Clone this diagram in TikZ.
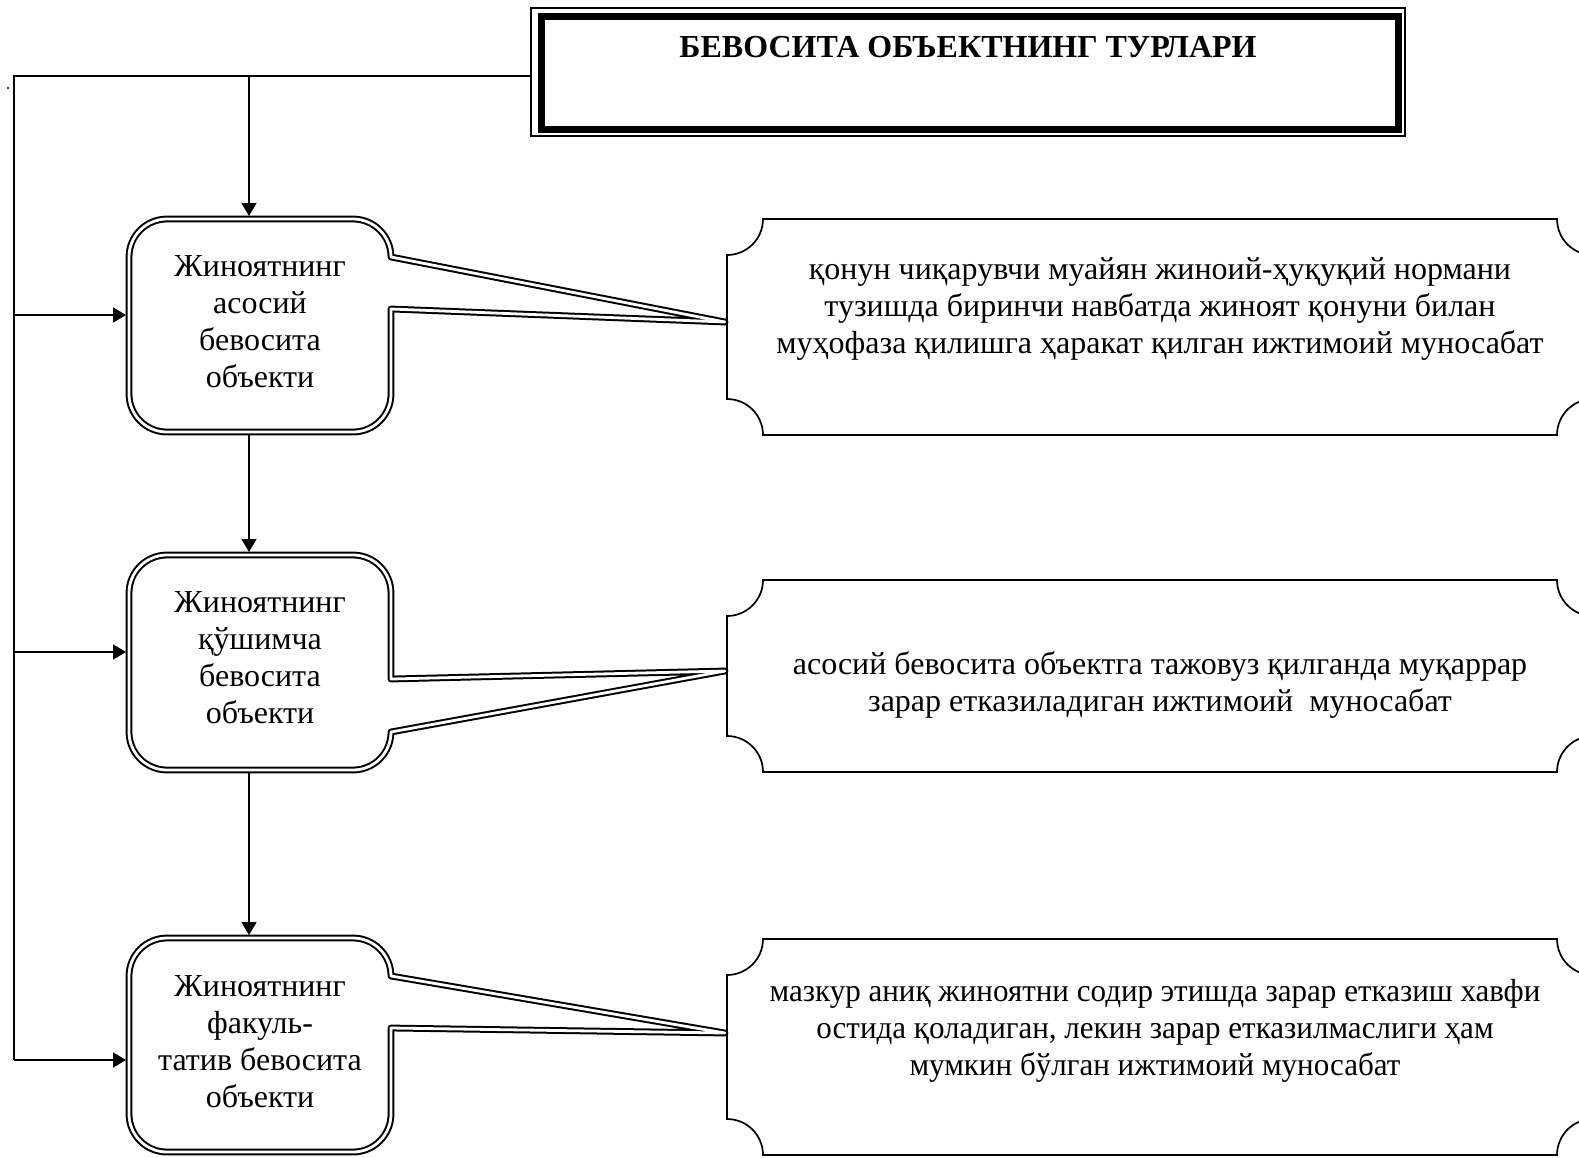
\documentclass[tikz,border=0pt]{standalone}
\usepackage{fontspec}
\setmainfont{Liberation Serif}
\usetikzlibrary{arrows.meta}
\begin{document}
\begin{tikzpicture}[x=0.5pt,y=-0.5pt,
  ln/.style={line width=0.9pt},
  arr/.style={line width=0.9pt,-{Triangle[length=6.5pt,width=7.5pt]}},
  dbl/.style={draw,line width=1pt,double=white,double distance=1.4pt,line join=round},
  plaque/.style={draw,line width=0.85pt},
  txt/.style={align=center,font=\fontsize{16pt}{18.5pt}\selectfont,inner sep=0pt}]
\useasboundingbox (0,0) rectangle (1579,1157);
% title
\draw[line width=0.8pt] (531,8) rectangle (1405,136);
\draw[line width=3.5pt] (541,16) rectangle (1398,129);
\node[txt,font=\fontsize{16pt}{18.5pt}\selectfont\bfseries] (title) at (968,47) {БЕВОСИТА ОБЪЕКТНИНГ ТУРЛАРИ};
% left callout boxes
\draw[dbl] (167,219) -- (353,219) arc(-90:0:38) -- (725,322) -- (391,309) -- (391,394)
  arc(0:90:38) -- (167,432) arc(90:180:38) -- (129,257) arc(180:270:38) -- cycle;
\draw[dbl] (167,555) -- (353,555) arc(-90:0:38) -- (391,679) -- (725,671) -- (391,732)
  arc(0:90:38) -- (167,770) arc(90:180:38) -- (129,593) arc(180:270:38) -- cycle;
\draw[dbl] (167,938) -- (353,938) arc(-90:0:38) -- (725,1033) -- (391,1028) -- (391,1114)
  arc(0:90:38) -- (167,1152) arc(90:180:38) -- (129,976) arc(180:270:38) -- cycle;
\node[txt] (b1) at (260,322) {Жиноятнинг\\асосий\\бевосита\\объекти};
\node[txt] (b2) at (260,658) {Жиноятнинг\\қўшимча\\бевосита\\объекти};
\node[txt] (b3) at (260,1042) {Жиноятнинг\\факуль-\\татив бевосита\\объекти};
% right plaques
\draw[plaque] (763,219) -- (1557,219) arc(180:90:36) -- (1593,399) arc(270:180:36)
  -- (763,435) arc(0:-90:36) -- (727,255) arc(90:0:36) -- cycle;
\draw[plaque] (763,580) -- (1557,580) arc(180:90:36) -- (1593,736) arc(270:180:36)
  -- (763,772) arc(0:-90:36) -- (727,616) arc(90:0:36) -- cycle;
\draw[plaque] (763,939) -- (1557,939) arc(180:90:36) -- (1593,1119) arc(270:180:36)
  -- (763,1155) arc(0:-90:36) -- (727,975) arc(90:0:36) -- cycle;
\node[txt] (r1) at (1160,309) {қонун чиқарувчи муайян жиноий-ҳуқуқий нормани\\тузишда биринчи навбатда жиноят қонуни билан\\муҳофаза қилишга ҳаракат қилган ижтимоий муносабат};
\node[txt] (r2) at (1160,685) {асосий бевосита объектга тажовуз қилганда муқаррар\\зарар етказиладиган ижтимоий\ \ муносабат};
\node[txt,font=\fontsize{16pt}{18.5pt}\selectfont\addfontfeatures{FakeStretch=0.97}] (r3) at (1155,1031) {мазкур аниқ жиноятни содир этишда зарар етказиш хавфи\\остида қоладиган, лекин зарар етказилмаслиги ҳам\\мумкин бўлган ижтимоий муносабат};
% connectors
\coordinate (tl) at (531,76);
\coordinate (corner) at (14,76);
\coordinate (busend) at (14,1060);
\coordinate (tap) at (249,76);
\coordinate (b1t) at (249,216);
\coordinate (b1b) at (249,435);
\coordinate (b2t) at (249,552);
\coordinate (b2b) at (249,773);
\coordinate (b3t) at (249,935);
\coordinate (b1l) at (126,315);
\coordinate (b2l) at (126,652);
\coordinate (b3l) at (126,1060);
\draw[ln] (tl) -- (corner) -- (busend);
\draw[arr] (busend) -- (b3l);
\draw[arr] (corner |- b1l) -- (b1l);
\draw[arr] (corner |- b2l) -- (b2l);
\draw[arr] (tap) -- (b1t);
\draw[arr] (b1b) -- (b2t);
\draw[arr] (b2b) -- (b3t);
\fill (8,88) circle (1.2);
\end{tikzpicture}
\end{document}
